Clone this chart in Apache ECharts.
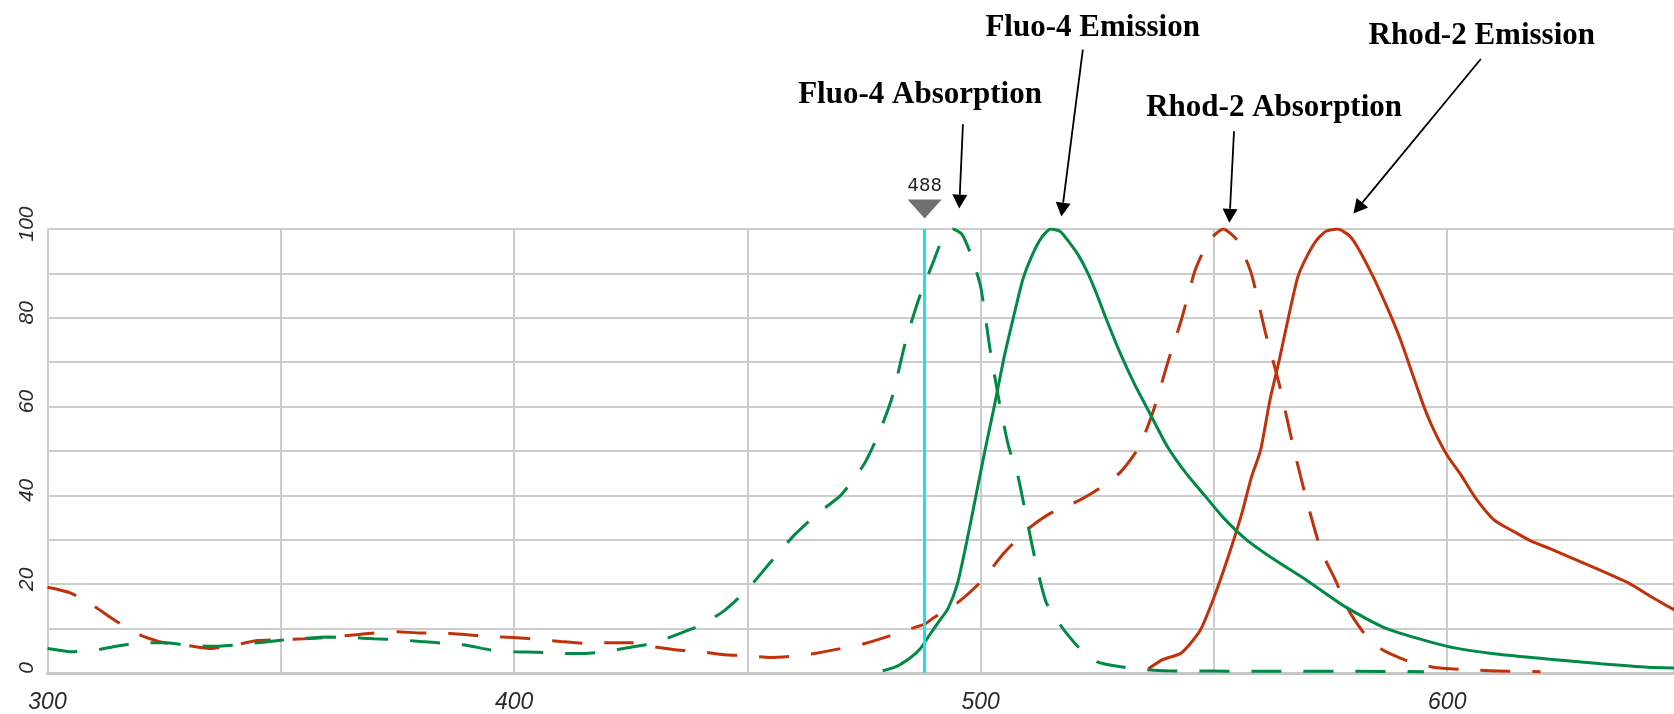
<!DOCTYPE html>
<html>
<head>
<meta charset="utf-8">
<script src="https://cdn.jsdelivr.net/npm/echarts@6/dist/echarts.min.js"></script>
<style>
html, body { margin: 0; padding: 0; background: #fff; }
#main { width: 1674px; height: 714px; }
</style>
</head>
<body>
<div id="main"></div>
<script>
var dom = document.getElementById('main');
var myChart = echarts.init(dom);

// Fluo-4 absorption (green, dashed)
var fluoAbsX = [300, 305, 310, 315, 320, 325, 330, 335, 340, 345, 350, 355, 360, 365, 370, 375, 380, 385, 390, 395,
	400, 405, 410, 415, 420, 425, 430, 435, 440, 445, 450, 455, 460, 465, 470, 475, 478, 481, 484, 487,
	490, 492, 494, 496, 498, 500, 502, 504, 506, 508, 510, 512, 514, 516, 518, 521, 525, 530, 535, 540, 560, 580, 595];
var fluoAbsY = [5.5, 4.8, 5.1, 6.1, 6.8, 6.8, 6.3, 6.0, 6.3, 6.8, 7.4, 7.8, 8.1, 8.0, 7.7, 7.5, 7.1, 6.7, 6.2, 5.2,
	4.8, 4.7, 4.4, 4.4, 4.9, 5.8, 6.8, 8.7, 10.8, 14, 18.8, 25, 31, 35.9, 40, 47, 53.5, 62, 75, 85,
	93, 98.3, 100, 98.8, 94, 87, 73, 61, 51, 44.3, 34, 24, 16, 12.5, 9.5, 5.8, 2.5, 1.4, 0.8, 0.5, 0.4, 0.4, 0.3];

// Fluo-4 emission (green, solid)
var fluoEmX = [479, 482, 485, 487, 489, 491, 493, 495, 497, 499, 501, 503, 505, 507, 509, 511, 513, 515, 517, 519,
	521, 523, 525, 527, 530, 533, 536, 540, 544, 548, 552, 557, 563, 570, 578, 587, 600, 611, 622, 633, 643, 649];
var fluoEmY = [0.5, 1.5, 3.5, 5.4, 8.5, 11.5, 14.5, 20, 29.5, 40, 50.5, 60.5, 71, 80, 88.5, 94, 98, 100, 99.5, 97,
	94, 90, 85, 79.5, 71.8, 65, 59, 51, 45, 40, 35, 30, 25.5, 20.8, 15, 10, 6, 4.2, 3.1, 2.1, 1.3, 1.1];

// Rhod-2 absorption (red, dashed)
var rhodAbsX = [300, 305, 310, 315, 320, 325, 330, 335, 340, 345, 350, 355, 360, 365, 370, 375, 380, 385, 390, 395,
	400, 405, 410, 415, 420, 425, 430, 435, 440, 445, 450, 455, 460, 465, 470, 475, 480, 485, 488, 490,
	495, 500, 505, 510, 515, 520, 525, 530, 534, 537, 540, 543, 546, 549, 552, 555, 558, 561, 564, 567,
	570, 573, 576, 579, 582, 586, 591, 597, 605, 613, 620];
var rhodAbsY = [19.3, 18, 15, 11.5, 8.5, 6.8, 6.2, 5.5, 6.3, 7.3, 7.5, 7.7, 8.0, 8.5, 9.0, 9.3, 9.0, 9.0, 8.6, 8.2,
	8.0, 7.6, 7.1, 6.7, 6.8, 6.8, 5.9, 5.2, 4.8, 4.1, 3.9, 3.5, 3.8, 4.5, 5.5, 6.6, 8.2, 10, 11, 12.5,
	15.8, 20.5, 27, 32.3, 36, 38.3, 41.3, 45.3, 51, 59, 69.6, 79.5, 90.8, 97.4, 100, 97.4, 90, 76.8, 65, 51,
	38.4, 27.5, 21, 13.9, 9.2, 5.3, 2.9, 1.3, 0.7, 0.4, 0.3];

// Rhod-2 emission (red, solid)
var rhodEmX = [536, 539, 543, 547, 550, 553, 556, 558, 560, 562, 564, 566, 568, 570, 572, 574, 576.5, 579, 581, 584,
	586, 588, 590, 592, 595, 597, 600, 603, 606, 610, 614, 618, 622, 626, 632, 639, 644, 649];
var rhodEmY = [1, 3, 4.5, 9.5, 17, 26, 36, 44, 50.2, 61.5, 70.5, 80.3, 89.3, 94, 97.5, 99.5, 100, 98.5, 95.5, 89.5,
	85, 80.2, 75, 69, 60, 55, 49, 44.5, 39.5, 34.5, 32, 29.7, 28, 26.2, 23.5, 20.2, 17, 14];

// laser line
var laserLine = 488;

// labels: text, text anchor [x, y], arrow start [x, y], arrow tip [x, y] (data units)
var labelNames = ['Fluo-4 Absorption', 'Fluo-4 Emission', 'Rhod-2 Absorption', 'Rhod-2 Emission'];
var labelAt = [[487.0, 130.1], [524.0, 145.3], [562.9, 127.2], [607.4, 143.4]];
var arrowFrom = [[496.2, 123.6], [521.9, 140.4], [554.3, 122.0], [607.2, 138.3]];
var arrowTo = [[495.4, 104.6], [517.3, 102.8], [553.3, 101.4], [579.9, 103.5]];

function pairs(xs, ys) {
	var out = [];
	for (var i = 0; i < xs.length; i++) {
		out.push([xs[i], ys[i]]);
	}
	return out;
}

var green = '#008a46';
var red = '#c2320a';
var dash = [30, 22];

option = {
	animation: false,
	grid: {
		left: 47.5,
		right: 0,
		top: 229,
		bottom: 40,
		containLabel: false
	},
	xAxis: {
		type: 'value',
		min: 300,
		max: 648.6,
		interval: 50,
		axisLine: { show: true, lineStyle: { color: '#c6c6c6', width: 3 } },
		axisTick: { show: false },
		axisLabel: {
			margin: 18,
			fontSize: 23,
			fontStyle: 'italic',
			fontFamily: 'Liberation Sans',
			color: '#2a2a2a',
			showMaxLabel: false,
			formatter: function(v) {
				return v % 100 === 0 ? String(v) : '';
			}
		},
		splitLine: { show: true, lineStyle: { color: '#cccccc', width: 2 } }
	},
	yAxis: {
		type: 'value',
		min: 0,
		max: 100,
		interval: 10,
		axisLine: { show: false },
		axisTick: { show: false },
		axisLabel: {
			rotate: 90,
			margin: 10,
			fontSize: 21,
			fontStyle: 'italic',
			fontFamily: 'Liberation Sans',
			color: '#2a2a2a',
			padding: [0, 0, 0, 10],
			formatter: function(v) {
				return v % 20 === 0 ? String(v) : '';
			}
		},
		splitLine: { show: true, lineStyle: { color: '#cccccc', width: 2 } }
	},
	series: [{
		name: 'Rhod-2 Absorption',
		type: 'line',
		data: pairs(rhodAbsX, rhodAbsY),
		showSymbol: false,
		smooth: 0.2,
		lineStyle: { color: red, width: 3, type: dash }
	}, {
		name: 'Fluo-4 Absorption',
		type: 'line',
		data: pairs(fluoAbsX, fluoAbsY),
		showSymbol: false,
		smooth: 0.2,
		lineStyle: { color: green, width: 3, type: dash },
		markLine: {
			silent: true,
			symbol: ['none', 'none'],
			label: { show: false },
			lineStyle: { color: '#14e4ee', width: 3, type: 'solid' },
			data: [{ xAxis: laserLine }]
		},
		markPoint: {
			silent: true,
			symbol: 'path://M0,0L10,0L5,6Z',
			symbolSize: [34, 19],
			symbolOffset: [0, -20],
			itemStyle: { color: '#707070' },
			label: {
				show: true,
				position: 'top',
				distance: 4,
				formatter: String(laserLine),
				fontSize: 18,
				fontFamily: 'DejaVu Sans',
				color: '#222'
			},
			data: [{ coord: [laserLine, 100] }]
		}
	}, {
		name: 'Rhod-2 Emission',
		type: 'line',
		data: pairs(rhodEmX, rhodEmY),
		showSymbol: false,
		smooth: 0.2,
		lineStyle: { color: red, width: 3 }
	}, {
		name: 'Fluo-4 Emission',
		type: 'line',
		data: pairs(fluoEmX, fluoEmY),
		showSymbol: false,
		smooth: 0.2,
		lineStyle: { color: green, width: 3 }
	}]
};

myChart.setOption(option, true);

// annotations with arrows, placed through the axis scales
var graphics = [];
for (var i = 0; i < labelNames.length; i++) {
	var t = myChart.convertToPixel({ gridIndex: 0 }, labelAt[i]);
	var a = myChart.convertToPixel({ gridIndex: 0 }, arrowFrom[i]);
	var b = myChart.convertToPixel({ gridIndex: 0 }, arrowTo[i]);
	var dx = b[0] - a[0], dy = b[1] - a[1];
	var len = Math.sqrt(dx * dx + dy * dy);
	var ux = dx / len, uy = dy / len;
	var headLen = 14, headHalf = 7.5;
	var bx = b[0] - ux * headLen, by = b[1] - uy * headLen;
	graphics.push({
		type: 'text',
		x: t[0],
		y: t[1],
		style: {
			text: labelNames[i],
			fontFamily: 'Liberation Serif',
			fontWeight: 'bold',
			fontSize: 31,
			fill: '#000',
			align: 'center',
			verticalAlign: 'middle'
		}
	});
	graphics.push({
		type: 'line',
		shape: { x1: a[0], y1: a[1], x2: bx, y2: by },
		style: { stroke: '#000', lineWidth: 1.8 }
	});
	graphics.push({
		type: 'polygon',
		shape: {
			points: [
				[b[0], b[1]],
				[bx - uy * headHalf, by + ux * headHalf],
				[bx + uy * headHalf, by - ux * headHalf]
			]
		},
		style: { fill: '#000' }
	});
}
myChart.setOption({ graphic: graphics });
</script>
</body>
</html>
